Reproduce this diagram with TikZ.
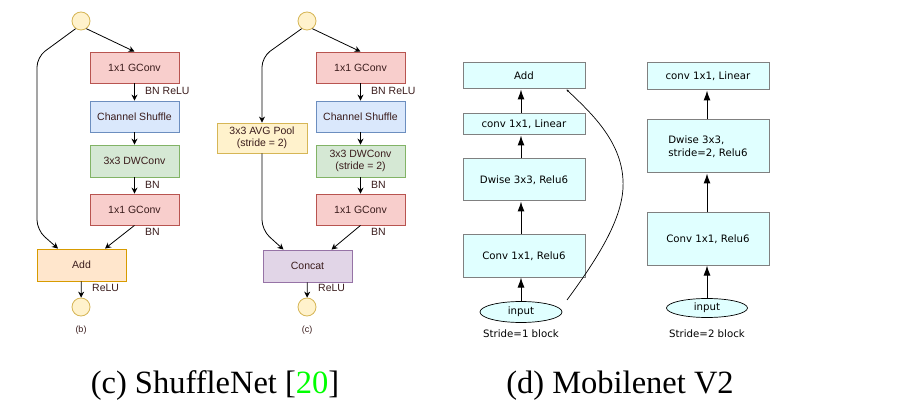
\documentclass[tikz,border=0pt]{standalone}
\usepackage{fontspec}
\setmainfont{Liberation Serif}
\newfontfamily\helv{Liberation Sans}
\newfontfamily\dvs{DejaVu Sans}
\usetikzlibrary{arrows.meta,shapes.geometric,calc}
\definecolor{redf}{HTML}{F8CECC}\definecolor{redd}{HTML}{B85450}
\definecolor{bluef}{HTML}{DAE8FC}\definecolor{blued}{HTML}{6C8EBF}
\definecolor{greenf}{HTML}{D5E8D4}\definecolor{greend}{HTML}{82B366}
\definecolor{orf}{HTML}{FFE6CC}\definecolor{ord}{HTML}{D79B00}
\definecolor{yelf}{HTML}{FFF2CC}\definecolor{yeld}{HTML}{D6B656}
\definecolor{purf}{HTML}{E1D5E7}\definecolor{purd}{HTML}{9673A6}
\definecolor{txt}{HTML}{3A1C1C}
\definecolor{cyanf}{HTML}{E0FFFF}\definecolor{grayd}{HTML}{808080}
\definecolor{citegreen}{HTML}{00FF00}
\tikzset{
  sbox/.style={draw, line width=0.8pt, minimum width=89pt, minimum height=31pt, inner sep=0pt,
    align=center, text=txt, font=\helv\fontsize{10.5}{12.5}\selectfont},
  redbox/.style={sbox, fill=redf, draw=redd},
  bluebox/.style={sbox, fill=bluef, draw=blued},
  greenbox/.style={sbox, fill=greenf, draw=greend},
  orbox/.style={sbox, fill=orf, draw=ord},
  yelbox/.style={sbox, fill=yelf, draw=yeld},
  purbox/.style={sbox, fill=purf, draw=purd},
  term/.style={circle, draw=yeld, fill=yelf, line width=0.8pt, minimum size=18pt, inner sep=0pt},
  lbl/.style={text=txt, font=\helv\fontsize{10.5}{12.5}\selectfont, inner sep=0pt, anchor=west},
  sarr/.style={draw=black, line width=0.8pt, -{Stealth[length=6pt,width=6pt]}},
  mbox/.style={draw=grayd, fill=cyanf, line width=1pt, minimum width=122pt, inner sep=0pt,
    align=center, font=\dvs\fontsize{10.2}{13}\selectfont},
  mell/.style={ellipse, draw=black, fill=cyanf, line width=0.7pt, inner sep=0pt,
    font=\dvs\fontsize{10.2}{13}\selectfont},
  marr/.style={draw=black, line width=1pt, -{Latex[length=10pt,width=7pt]}},
  mtxt/.style={font=\dvs\fontsize{10.2}{13}\selectfont, inner sep=0pt},
  captxt/.style={font=\fontsize{32.5}{36}\selectfont, inner sep=0pt, anchor=base}
}
\begin{document}
\begin{tikzpicture}[x=1pt,y=-1pt]
\useasboundingbox (0,0) rectangle (897,406);
\fill[white] (0,0) rectangle (897,406);
% ---------- ShuffleNet (b)
\node[term] (cinb) at (81,21) {};
\node[redbox] (g1b) at (134.5,67.5) {1x1 GConv};
\node[bluebox] (csb) at (134.5,116.5) {Channel Shuffle};
\node[greenbox, minimum height=32pt] (dwb) at (134.5,161) {3x3 DWConv};
\node[redbox] (g2b) at (134.5,209.5) {1x1 GConv};
\node[orbox, minimum height=32pt] (addb) at (81.5,265) {Add};
\node[term] (coutb) at (81,307) {};
\node[lbl, anchor=center, font=\helv\fontsize{9}{11}\selectfont] (capb) at (81,330) {(b)};
\node[lbl] (l1b) at (145,91) {BN ReLU};
\node[lbl] (l2b) at (145,185) {BN};
\node[lbl] (l3b) at (145,232) {BN};
\node[lbl] (l4b) at (92,288) {ReLU};
\draw[sarr] (cinb.-55) -- (g1b.north);
\draw[sarr] (g1b) -- (csb);
\draw[sarr] (csb) -- (dwb);
\draw[sarr] (dwb) -- (g2b);
\draw[sarr] (g2b.south) -- ($(addb.north)+(23.5,0)$);
\draw[sarr] (addb) -- (coutb);
\coordinate (pb1) at (37,57);
\coordinate (pb2) at (37,230);
\draw[sarr, rounded corners=10pt] (cinb.-125) -- (pb1) -- (pb2) -- ($(addb.north)+(-23.5,0)$);
% ---------- ShuffleNet (c)
\node[term] (cinc) at (307,21) {};
\node[redbox] (g1c) at (360.5,67.5) {1x1 GConv};
\node[bluebox] (csc) at (360.5,116.5) {Channel Shuffle};
\node[greenbox, minimum height=32pt] (dwc) at (360.5,161) {3x3 DWConv\\(stride = 2)};
\node[redbox] (g2c) at (360.5,209.5) {1x1 GConv};
\node[yelbox, minimum width=90pt, minimum height=30pt] (avgc) at (262,138) {3x3 AVG Pool\\(stride = 2)};
\node[purbox, minimum height=32pt] (concc) at (307.5,266) {Concat};
\node[term] (coutc) at (307,307) {};
\node[lbl, anchor=center, font=\helv\fontsize{9}{11}\selectfont] (capc) at (307,330) {(c)};
\node[lbl] (l1c) at (371,91) {BN ReLU};
\node[lbl] (l2c) at (371,185) {BN};
\node[lbl] (l3c) at (371,232) {BN};
\node[lbl] (l4c) at (318,288) {ReLU};
\draw[sarr] (cinc.-55) -- (g1c.north);
\draw[sarr] (g1c) -- (csc);
\draw[sarr] (csc) -- (dwc);
\draw[sarr] (dwc) -- (g2c);
\draw[sarr] (g2c.south) -- ($(concc.north)+(24,0)$);
\draw[sarr] (concc) -- (coutc);
\coordinate (pc1) at (262,57);
\coordinate (pc2) at (262,230);
\draw[sarr, rounded corners=10pt] (cinc.-125) -- (pc1) -- (avgc.north);
\draw[sarr, rounded corners=10pt] (avgc.south) -- (pc2) -- ($(concc.north)+(-24,0)$);
% ---------- MobileNet stride 1
\node[mbox, minimum height=26pt] (add1) at (524,76) {Add};
\node[mbox, minimum height=21pt] (lin1) at (524,124.5) {conv 1x1, Linear};
\node[mbox, minimum height=42pt] (dw1) at (524,180) {Dwise 3x3, Relu6};
\node[mbox, minimum height=42pt] (cv1) at (524,256) {Conv 1x1, Relu6};
\node[mell, minimum width=82pt, minimum height=21pt] (in1) at (521,312) {input};
\node[mtxt] (s1) at (521,334) {Stride=1 block};
\draw[marr] (in1.north) -- (cv1.south -| in1.north);
\draw[marr] (cv1.north -| in1.north) -- (dw1.south -| in1.north);
\draw[marr] (dw1.north -| in1.north) -- (lin1.south -| in1.north);
\draw[marr] (lin1.north -| in1.north) -- (add1.south -| in1.north);
\coordinate (cs1) at (567,300);
\coordinate (cm1) at (623,180);
\draw[line width=0.7pt, -{Stealth[length=2.5pt,width=2.5pt]}] (cs1) .. controls (600,255) and (625,215) .. (cm1)
   .. controls (621,140) and (590,112) .. ($(add1.south east)+(-19,0)$);
% ---------- MobileNet stride 2
\node[mbox, minimum height=27pt] (lin2) at (708,76.5) {conv 1x1, Linear};
\node[mbox, minimum height=53pt, align=left] (dw2) at (708,146.5) {Dwise 3x3,\\stride=2, Relu6};
\node[mbox, minimum height=52pt] (cv2) at (708,239) {Conv 1x1, Relu6};
\node[mell, minimum width=81pt, minimum height=19pt] (in2) at (707,308) {input};
\node[mtxt] (s2) at (707,334) {Stride=2 block};
\draw[marr] (in2.north) -- (cv2.south -| in2.north);
\draw[marr] (cv2.north -| in2.north) -- (dw2.south -| in2.north);
\draw[marr] (dw2.north -| in2.north) -- (lin2.south -| in2.north);
% ---------- captions
\node[captxt] (capsh) at (215,393) {(c) ShuffleNet [\textcolor{citegreen}{20}]};
\node[captxt] (capmb) at (620,393) {(d) Mobilenet V2};
\end{tikzpicture}
\end{document}
